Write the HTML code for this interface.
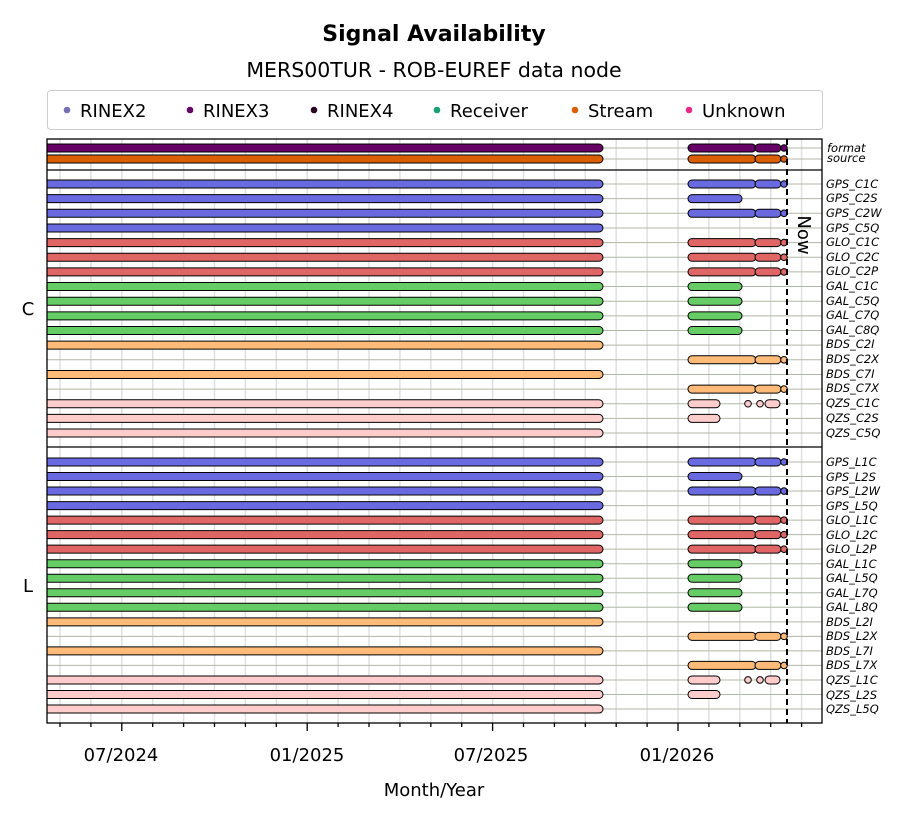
<!DOCTYPE html>
<html><head><meta charset="utf-8"><style>
body{margin:0;background:#fff;width:914px;height:823px;overflow:hidden}
svg{font-family:"DejaVu Sans","Liberation Sans",sans-serif}
.r{font-size:11.5px;font-style:italic}
</style></head><body>
<svg id="s" width="914" height="823" xmlns="http://www.w3.org/2000/svg">
<defs><clipPath id="cp"><rect x="47" y="139" width="775" height="584"/></clipPath></defs>
<text x="434" y="41" font-size="22" font-weight="bold" text-anchor="middle">Signal Availability</text>
<text x="434" y="77" font-size="20.5" text-anchor="middle">MERS00TUR - ROB-EUREF data node</text>
<rect x="47.5" y="90.5" width="775" height="39" rx="3" fill="#fff" stroke="#ccc"/>
<g font-size="18">
<circle cx="67" cy="110" r="3.3" fill="#7570b3"/><text x="80" y="117">RINEX2</text>
<circle cx="190" cy="110" r="3.3" fill="#660066"/><text x="203" y="117">RINEX3</text>
<circle cx="314" cy="110" r="3.3" fill="#2a0020"/><text x="327" y="117">RINEX4</text>
<circle cx="437" cy="110" r="3.3" fill="#1b9e77"/><text x="450" y="117">Receiver</text>
<circle cx="575" cy="110" r="3.3" fill="#d95f02"/><text x="588" y="117">Stream</text>
<circle cx="689" cy="110" r="3.3" fill="#e7298a"/><text x="702" y="117">Unknown</text>
</g>
<g id="grid"></g>
<g id="bars" clip-path="url(#cp)"></g>
<line x1="787" y1="139" x2="787" y2="723" stroke="#000" stroke-width="2" stroke-dasharray="6,4"/>
<text transform="translate(798,235) rotate(90)" font-size="18" text-anchor="middle">Now</text>
<line x1="47" y1="170" x2="822" y2="170" stroke="#000" stroke-width="1.3"/>
<line x1="47" y1="447" x2="822" y2="447" stroke="#000" stroke-width="1.3"/>
<rect x="47" y="139" width="775" height="584" fill="none" stroke="#000" stroke-width="1.3"/>
<text x="28" y="315" font-size="18" text-anchor="middle">C</text>
<text x="28" y="592" font-size="18" text-anchor="middle">L</text>
<g font-size="18" text-anchor="middle">
<text x="121" y="761">07/2024</text><text x="307" y="761">01/2025</text><text x="491" y="761">07/2025</text><text x="677" y="761">01/2026</text>
<text x="434" y="796">Month/Year</text></g>
<g class="r">
<text x="827" y="152">format</text><text x="827" y="162">source</text>
<text x="826" y="188">GPS_C1C</text><text x="826" y="202">GPS_C2S</text><text x="826" y="217">GPS_C2W</text><text x="826" y="232">GPS_C5Q</text>
<text x="826" y="246">GLO_C1C</text><text x="826" y="261">GLO_C2C</text><text x="826" y="275">GLO_C2P</text>
<text x="826" y="290">GAL_C1C</text><text x="826" y="305">GAL_C5Q</text><text x="826" y="319">GAL_C7Q</text><text x="826" y="334">GAL_C8Q</text>
<text x="826" y="348">BDS_C2I</text><text x="826" y="363">BDS_C2X</text><text x="826" y="378">BDS_C7I</text><text x="826" y="392">BDS_C7X</text>
<text x="826" y="407">QZS_C1C</text><text x="826" y="422">QZS_C2S</text><text x="826" y="437">QZS_C5Q</text>
<text x="826" y="466">GPS_L1C</text><text x="826" y="481">GPS_L2S</text><text x="826" y="495">GPS_L2W</text><text x="826" y="510">GPS_L5Q</text>
<text x="826" y="524">GLO_L1C</text><text x="826" y="539">GLO_L2C</text><text x="826" y="553">GLO_L2P</text>
<text x="826" y="568">GAL_L1C</text><text x="826" y="582">GAL_L5Q</text><text x="826" y="597">GAL_L7Q</text><text x="826" y="611">GAL_L8Q</text>
<text x="826" y="626">BDS_L2I</text><text x="826" y="640">BDS_L2X</text><text x="826" y="655">BDS_L7I</text><text x="826" y="669">BDS_L7X</text>
<text x="826" y="684">QZS_L1C</text><text x="826" y="699">QZS_L2S</text><text x="826" y="713">QZS_L5Q</text>
</g>
</svg>
<script>
const NS="http://www.w3.org/2000/svg";
function el(p,t,a){const e=document.createElementNS(NS,t);for(const k in a)e.setAttribute(k,a[k]);p.appendChild(e);return e;}
const g=document.getElementById('grid'),b=document.getElementById('bars');
for(let i=0;i<26;i++){const x=60+i*30.9;if(x>822)break;el(g,'line',{x1:x,y1:139,x2:x,y2:723,stroke:'#e0e0e0','stroke-width':1.5});
const big=[121,307,491,677].some(v=>Math.abs(v-x)<3);el(g,'line',{x1:x,y1:723,x2:x,y2:big?731:727,stroke:'#000','stroke-width':1.3});}
const C={G:'#6a6ae0',R:'#e06666',E:'#66cc66',B:'#ffbb77',J:'#ffcccc',F:'#660066',S:'#d95f02'};
function bar(y,x1,x2,c){el(b,'rect',{x:x1,y:y-4,width:x2-x1,height:8,rx:4,fill:c,stroke:'#000','stroke-width':1});}
function dot(y,x,c){el(b,'circle',{cx:x,cy:y,r:3.3,fill:c,stroke:'#000','stroke-width':1});}
function full(y,c){bar(y,688,756,c);bar(y,755,781,c);dot(y,784,c);}
const rows=[];
function add(y,c,first,second){el(g,'line',{x1:47,y1:y,x2:822,y2:y,stroke:'#b0b8a8','stroke-width':1});rows.push([y,c,first,second]);}
add(148,C.F,1,'f');add(159,C.S,1,'f');
function block(y0,st){const p=[['G',1,'f'],['G',1,'s'],['G',1,'f'],['G',1,''],['R',1,'f'],['R',1,'f'],['R',1,'f'],['E',1,'s'],['E',1,'s'],['E',1,'s'],['E',1,'s'],['B',1,''],['B',0,'f'],['B',1,''],['B',0,'f'],['J',1,'q'],['J',1,'t'],['J',1,'']];
p.forEach((r,i)=>add(y0+i*st,C[r[0]],r[1],r[2]));}
block(184,14.65);block(462,14.53);
rows.forEach(([y,c,f,s])=>{if(f)bar(y,38,603,c);
if(s=='f')full(y,c);else if(s=='s')bar(y,688,742,c);else if(s=='t')bar(y,688,720,c);
else if(s=='q'){bar(y,688,720,c);dot(y,748,c);dot(y,760,c);bar(y,765,780,c);}});
</script>
</body></html>
